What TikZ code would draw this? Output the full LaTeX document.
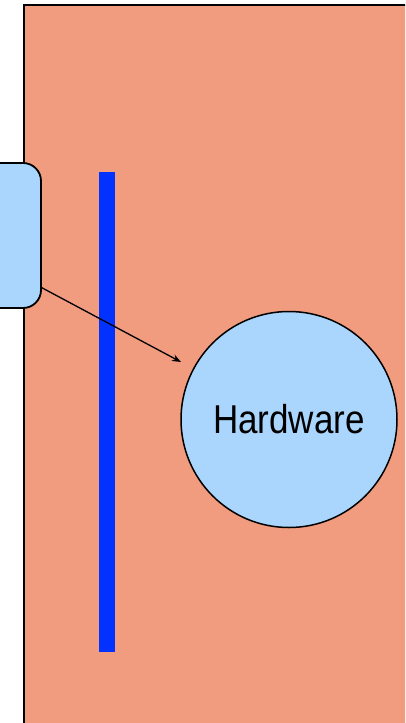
\documentclass[tikz,border=0pt]{standalone}
\usepackage{fontspec}
\setmainfont{Liberation Sans}
\usetikzlibrary{arrows.meta}
\definecolor{salmon}{RGB}{241,155,127}
\definecolor{lightblue}{RGB}{170,214,253}
\definecolor{barblue}{RGB}{2,50,255}
\tikzset{
  panel/.style={fill=salmon,draw=black,line width=1.8pt},
  bluebox/.style={draw=black,fill=lightblue,line width=1.8pt,rounded corners=18pt,minimum width=61pt,minimum height=145pt,inner sep=0pt},
  hwcircle/.style={circle,draw=black,fill=lightblue,line width=1.5pt,minimum size=216pt,inner sep=0pt},
  conn/.style={draw=black,line width=1.3pt,-{Stealth[length=9pt,width=7pt]}}
}
\begin{document}
\begin{tikzpicture}[x=1pt,y=-1pt]
\useasboundingbox (0,0) rectangle (405,723);
\clip (0,0) rectangle (405,723);
\draw[panel] (24,5) rectangle (420,740);
\fill[barblue] (99,172) rectangle (115,652);
\node[bluebox] (box) at (10.5,235.5) {};
\node[hwcircle] (hw) at (289,419.5) {\raisebox{-2pt}{\scalebox{1}[1.15]{\fontsize{35pt}{38pt}\selectfont Hardware}}};
\coordinate (tip) at (181,362);
\draw[conn] (box.-59) -- (tip);
\end{tikzpicture}
\end{document}
